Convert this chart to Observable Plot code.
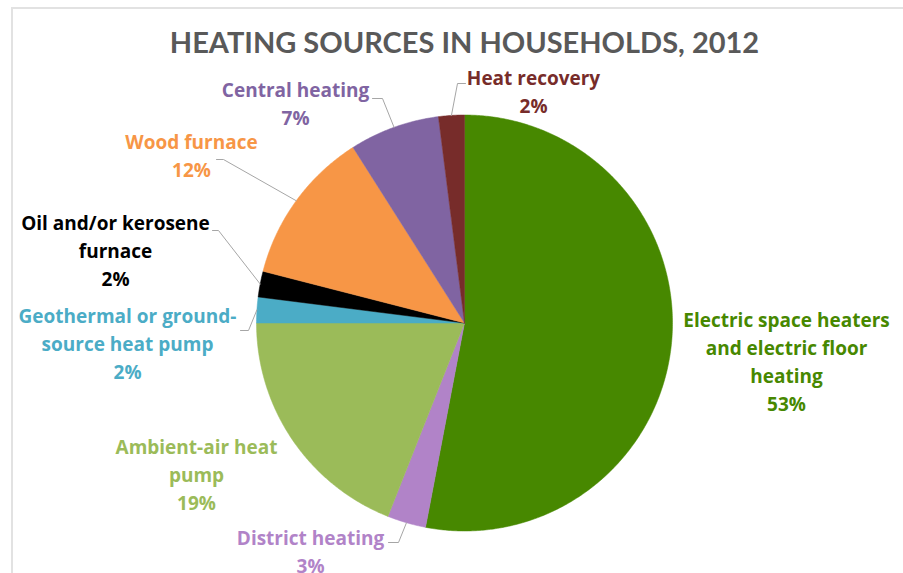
<!DOCTYPE html>
<html>
<head>
<meta charset="utf-8">
<script src="https://cdn.jsdelivr.net/npm/d3@7"></script>
<script src="https://cdn.jsdelivr.net/npm/@observablehq/plot@0.6"></script>
<style>
  body { margin: 0; background: #fff; }
  #wrap { position: relative; width: 903px; height: 573px; overflow: hidden; background: #fff; }
  #border { position: absolute; left: 11px; top: 7px; width: 1200px; height: 1200px; border: 2px solid #e2e2e2; box-sizing: border-box; pointer-events: none; }
  #chart svg { display: block; }
</style>
</head>
<body>
<div id="wrap"><div id="chart"></div><div id="border"></div></div>
<script>
// ---- data ----
const title = "HEATING SOURCES IN HOUSEHOLDS, 2012";
const categories = [
  "Electric space heaters and electric floor heating",
  "District heating",
  "Ambient-air heat pump",
  "Geothermal or ground-source heat pump",
  "Oil and/or kerosene furnace",
  "Wood furnace",
  "Central heating",
  "Heat recovery"
];
const shares = [53, 3, 19, 2, 2, 12, 7, 2];
const labelLines = [
  ["Electric space heaters", "and electric floor", "heating"],
  ["District heating"],
  ["Ambient-air heat", "pump"],
  ["Geothermal or ground-", "source heat pump"],
  ["Oil and/or kerosene", "furnace"],
  ["Wood furnace"],
  ["Central heating"],
  ["Heat recovery"]
];

// ---- styles / layout ----
const palette = ["#478800", "#b183c8", "#9bbb59", "#4bacc6", "#000000", "#f79646", "#8064a2", "#772c2a"];
const W = 903, H = 573;
const CX = 464, CY = 322.5, R = 208;
const LINE = 28;
// label first-line center (x, y) in page pixels
const labelPos = [
  [786, 320], [310, 538], [196, 447], [127, 316],
  [115, 223], [191, 142], [295, 90], [533, 78]
];
// leader elbow and end points (null = no leader)
const leaders = [
  null,
  [[398, 542], [388, 542]],
  null,
  [[248, 330], [240, 330]],
  [[218, 230], [212, 230]],
  [[223, 159], [216, 159]],
  [[382, 98], [372, 98]],
  [[457, 83], [465, 83]]
];

// ---- geometry from values ----
const total = d3.sum(shares);
const toRad = Math.PI / 180;
const pt = (deg, r) => [CX + r * Math.sin(deg * toRad), CY - r * Math.cos(deg * toRad)];
let cum = 0;
const slicePts = [];
const mids = [];
categories.forEach((cat, i) => {
  const a0 = cum / total * 360;
  cum += shares[i];
  const a1 = cum / total * 360;
  mids.push((a0 + a1) / 2);
  slicePts.push({cat, x: CX, y: CY});
  const n = Math.max(2, Math.ceil((a1 - a0) / 0.5));
  for (let k = 0; k <= n; k++) {
    const [x, y] = pt(a0 + (a1 - a0) * k / n, R);
    slicePts.push({cat, x, y});
  }
  slicePts.push({cat, x: CX, y: CY});
});
const circlePts = d3.range(0, 361, 1).map(a => { const [x, y] = pt(a, R); return {x, y}; });

const leaderPts = [];
leaders.forEach((l, i) => {
  if (!l) return;
  const [ex, ey] = pt(mids[i], R);
  leaderPts.push({k: i, x: ex, y: ey}, {k: i, x: l[0][0], y: l[0][1]}, {k: i, x: l[1][0], y: l[1][1]});
});

const textRows = [];
categories.forEach((cat, i) => {
  const lines = [...labelLines[i], `${shares[i]}%`];
  lines.forEach((t, j) => textRows.push({x: labelPos[i][0], y: labelPos[i][1] + j * LINE, t, cat}));
});

const titleFont = "Lato, 'Open Sans', sans-serif";
const labelFont = "'Open Sans', Lato, sans-serif";
const chart = Plot.plot({
  width: W, height: H,
  margin: 0,
  x: {domain: [0, W], range: [0, W], axis: null},
  y: {domain: [0, H], range: [0, H], axis: null},
  color: {domain: categories, range: palette},
  style: {fontFamily: labelFont, background: "transparent"},
  marks: [
    Plot.line(circlePts, {x: "x", y: "y", fill: "#000", fillOpacity: 0.3, dy: 3, stroke: "none", ariaLabel: "pie shadow"}),
    Plot.line(slicePts, {x: "x", y: "y", z: "cat", fill: "cat", stroke: "cat", strokeWidth: 0.5, curve: "linear"}),
    Plot.line(leaderPts, {x: "x", y: "y", z: "k", stroke: "#a6a6a6", strokeWidth: 1}),
    Plot.text(textRows, {x: "x", y: "y", text: "t", fill: "cat", fontWeight: "bold", fontSize: 19, textAnchor: "middle", fontFamily: labelFont}),
    Plot.text([title], {x: () => CX, y: () => 43, text: d => d, fill: "#595959", fontWeight: "bold", fontSize: 29, textAnchor: "middle", fontFamily: titleFont})
  ]
});
document.getElementById("chart").appendChild(chart);
const sh = chart.querySelector('g[aria-label="pie shadow"]');
if (sh) sh.style.filter = "blur(3px)";
</script>
</body>
</html>
